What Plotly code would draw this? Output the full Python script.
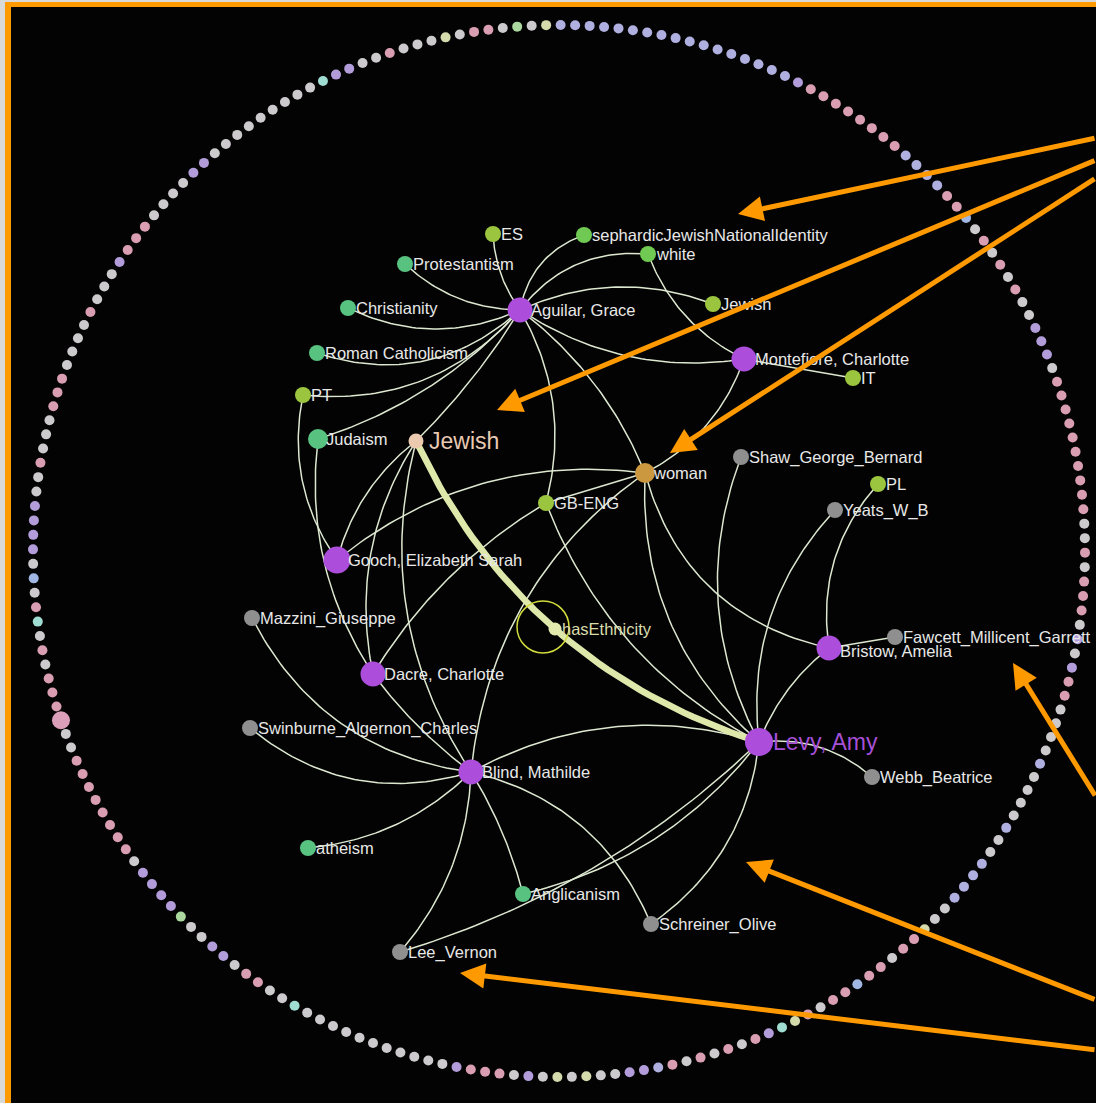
import math
import plotly.graph_objects as go

# ---------------------------------------------------------------- data
node_names = ["Aguilar, Grace", "Montefiore, Charlotte", "Gooch, Elizabeth Sarah", "Dacre, Charlotte",
              "Blind, Mathilde", "Bristow, Amelia", "Levy, Amy", "Jewish", "woman", "hasEthnicity",
              "GB-ENG", "ES", "sephardicJewishNationalIdentity", "white", "Jewish", "IT", "PL",
              "Protestantism", "Christianity", "Roman Catholicism", "PT", "Judaism", "atheism", "Anglicanism",
              "Shaw_George_Bernard", "Yeats_W_B", "Fawcett_Millicent_Garrett", "Mazzini_Giuseppe",
              "Swinburne_Algernon_Charles", "Webb_Beatrice", "Schreiner_Olive", "Lee_Vernon"]
# layout positions of the force graph (screen units)
node_x = [520, 744, 337, 373, 471, 829, 759, 416, 645, 555, 546, 493, 584, 648, 713, 853, 878,
          405, 348, 317, 303, 318, 308, 523, 741, 835, 895, 252, 250, 872, 651, 400]
node_y = [310, 359, 560, 674, 772, 648, 742, 441, 473, 629, 503, 234, 235, 254, 304, 378, 484,
          264, 308, 353, 395, 439, 848, 894, 457, 510, 637, 618, 728, 777, 924, 952]
node_kind = (["writer"] * 7 +
             ["ethnicity", "gender", "predicate", "place", "place", "identity", "identity", "place",
              "place", "place", "religion", "religion", "religion", "place", "religion", "religion",
              "religion"] +
             ["person"] * 8)

edge_src = [0, 0, 0, 0, 0, 0, 0, 0, 0, 0, 0, 0, 0,
            13, 1, 8,
            20, 21, 7, 2,
            7, 10, 8, 3,
            27, 28, 4, 4, 4, 4, 4, 7, 8,
            8, 10, 24, 25, 6, 6, 6, 6, 6,
            8, 16, 26]
edge_tgt = [11, 12, 13, 14, 1, 17, 18, 19, 20, 21, 7, 10, 8,
            1, 15, 1,
            2, 3, 2, 8,
            3, 3, 10, 4,
            4, 4, 22, 23, 31, 30, 6, 4, 4,
            6, 6, 6, 6, 5, 29, 30, 23, 31,
            5, 5, 5]
# the highlighted (weighted) relation: Jewish -> Levy, Amy through hasEthnicity
thick_edge = (7, 6, 9)

# colours of the outer ring of unconnected entities, clockwise from the top
ring_codes = ("y" + "l" * 17 + "v" + "p" * 8 + "llll" + "pp" + "b" + "gpgpgp" + "ggvvvg" + "p" * 9 +
              "pgg" + "pgpppgvgvppggggl" + "ggggl" + "gg" + "llll" + "gg" +
              "yppgppbppgpycvpgpgpgplvvggygygvgpppvgggggggggggcg" +
              "gppgvvggGvvvvgppppppppggPpppg" +
              "pgcpgbgvvvvggpgggpppggggpggg" +
              "vpppggggvvgggggggggcvvggpgggygppgGg")

# ---------------------------------------------------------------- styles
W, H = 1096, 1103
FONT = "Liberation Sans, Arial, Helvetica, sans-serif"
kind_color = {"writer": "#ac4ddc", "ethnicity": "#ebcab0", "gender": "#cb983f", "predicate": "#e3eaae",
              "place": "#9cc53f", "identity": "#70c952", "religion": "#58c381", "person": "#8f8f8f"}
kind_size = {"writer": 25, "ethnicity": 15, "gender": 20, "predicate": 13, "place": 16,
             "identity": 16, "religion": 16, "person": 16}
node_size_override = {2: 27, 6: 28, 21: 20}
ring_palette = {"g": "#d8d5d8", "p": "#e5a6bc", "l": "#b8b8ec", "v": "#bca5e6", "b": "#a9c1ef",
                "c": "#a8e8dc", "y": "#dfe6b4", "G": "#b4e4a6", "P": "#e8a8c4"}
edge_bend = [-6, -14, -19, -20, 22, -12, -20, -30, -30, -16, -5, -20, -14,
             14, 0, 15,
             18, 22, 12, -34,
             24, 15, 0, 5,
             35, 30, -16, -5, -17, -30, -30, 37, 39,
             35, 30, 32, 28, -8, -13, -24, -25, -25,
             38, 20, 0]
ring_cx, ring_cy, ring_r, ring_start = 559, 551, 526, -1.4


def bezier(x0, y0, x1, y1, cx, cy, n=48):
    xs, ys = [], []
    for i in range(n + 1):
        t = i / n
        xs.append((1 - t) ** 2 * x0 + 2 * (1 - t) * t * cx + t * t * x1)
        ys.append((1 - t) ** 2 * y0 + 2 * (1 - t) * t * cy + t * t * y1)
    return xs, ys


fig = go.Figure()

# ---------------------------------------------------------------- ring of entities
n_ring = len(ring_codes)
ang = [math.radians(ring_start + 360.0 * i / n_ring) for i in range(n_ring)]
fig.add_trace(go.Scatter(
    x=[ring_cx + ring_r * math.sin(a) for a in ang],
    y=[ring_cy - ring_r * math.cos(a) for a in ang],
    mode="markers", hoverinfo="skip",
    marker=dict(color=[ring_palette[c] for c in ring_codes],
                size=[18 if c == "P" else 10 for c in ring_codes],
                opacity=0.95, line=dict(width=0))))

# ---------------------------------------------------------------- thin edges
ex, ey = [], []
for s, t, b in zip(edge_src, edge_tgt, edge_bend):
    x0, y0, x1, y1 = node_x[s], node_y[s], node_x[t], node_y[t]
    dx, dy = x1 - x0, y1 - y0
    L = math.hypot(dx, dy) or 1.0
    cx = (x0 + x1) / 2 + 2 * b * (-dy / L)
    cy = (y0 + y1) / 2 + 2 * b * (dx / L)
    xs, ys = bezier(x0, y0, x1, y1, cx, cy)
    ex += xs + [None]
    ey += ys + [None]
fig.add_trace(go.Scatter(x=ex, y=ey, mode="lines", hoverinfo="skip",
                         line=dict(color="#dde8d0", width=1.5)))

# ---------------------------------------------------------------- thick edge through hasEthnicity
a, b_, m = thick_edge
cx = 2 * node_x[m] - (node_x[a] + node_x[b_]) / 2
cy = 2 * node_y[m] - (node_y[a] + node_y[b_]) / 2
tx, ty = bezier(node_x[a], node_y[a], node_x[b_], node_y[b_], cx, cy)
fig.add_trace(go.Scatter(x=tx, y=ty, mode="lines", hoverinfo="skip",
                         line=dict(color="#dfe8ab", width=6.5)))

# ---------------------------------------------------------------- nodes
fig.add_trace(go.Scatter(
    x=node_x, y=node_y, mode="markers", text=node_names, hoverinfo="text",
    marker=dict(color=[kind_color[k] for k in node_kind],
                size=[node_size_override.get(i, kind_size[k]) for i, k in enumerate(node_kind)],
                opacity=1, line=dict(width=0))))

# selection halo on the predicate node
hx, hy, hr = node_x[m] - 12, node_y[m] - 2, 26
fig.add_shape(type="circle", xref="x", yref="y", x0=hx - hr, x1=hx + hr, y0=hy - hr, y1=hy + hr,
              line=dict(color="#d2dc3c", width=1.5), fillcolor="rgba(0,0,0,0)")

# ---------------------------------------------------------------- background / frame
fig.add_shape(type="rect", xref="x", yref="y", x0=5, y0=2, x1=1300, y1=1300,
              fillcolor="#ff9900", line=dict(width=0), layer="below")
fig.add_shape(type="rect", xref="x", yref="y", x0=11, y0=7, x1=1300, y1=1300,
              fillcolor="#030303", line=dict(width=0), layer="below")

# ---------------------------------------------------------------- labels
annotations = []
for i, (name, k) in enumerate(zip(node_names, node_kind)):
    size, color, off = 16.5, "#e8e8e8", 6
    if k == "writer":
        off = 9
    if i == 6:
        size, color, off = 23, "#a650d8", 12
    elif i == 7:
        size, color, off = 23, "#e9c9b1", 11
    elif i == 9:
        color, off = "#d9dcab", 5
    dy = 3 if i == 5 else 0
    annotations.append(dict(x=node_x[i] + off, y=node_y[i] + dy, xref="x", yref="y", text=name,
                            showarrow=False, xanchor="left", yanchor="middle",
                            font=dict(family=FONT, size=size, color=color)))

# ---------------------------------------------------------------- orange call-out arrows
arrow_head = [(738, 214), (497, 410), (670, 453), (1013, 663), (746, 862), (460, 973)]
arrow_tail = [(1096, 138), (1096, 160), (1096, 178), (1096, 797), (1096, 1000), (1096, 1050)]
for (hx_, hy_), (txa, tya) in zip(arrow_head, arrow_tail):
    annotations.append(dict(x=hx_, y=hy_, ax=txa, ay=tya, xref="x", yref="y", axref="x", ayref="y",
                            text="", showarrow=True, arrowhead=2, arrowsize=1.0, arrowwidth=5,
                            arrowcolor="#ff9900", standoff=0, startstandoff=0))

fig.update_layout(
    width=W, height=H, margin=dict(l=0, r=0, t=0, b=0), autosize=False,
    paper_bgcolor="#d9d9d9", plot_bgcolor="rgba(0,0,0,0)", showlegend=False,
    xaxis=dict(range=[0, W], visible=False, fixedrange=True),
    yaxis=dict(range=[H, 0], visible=False, fixedrange=True),
    annotations=annotations, hovermode="closest")

fig.write_html("out.html", config={"displayModeBar": False},
               post_script="document.body.style.margin='0px';document.body.style.overflow='hidden';")
